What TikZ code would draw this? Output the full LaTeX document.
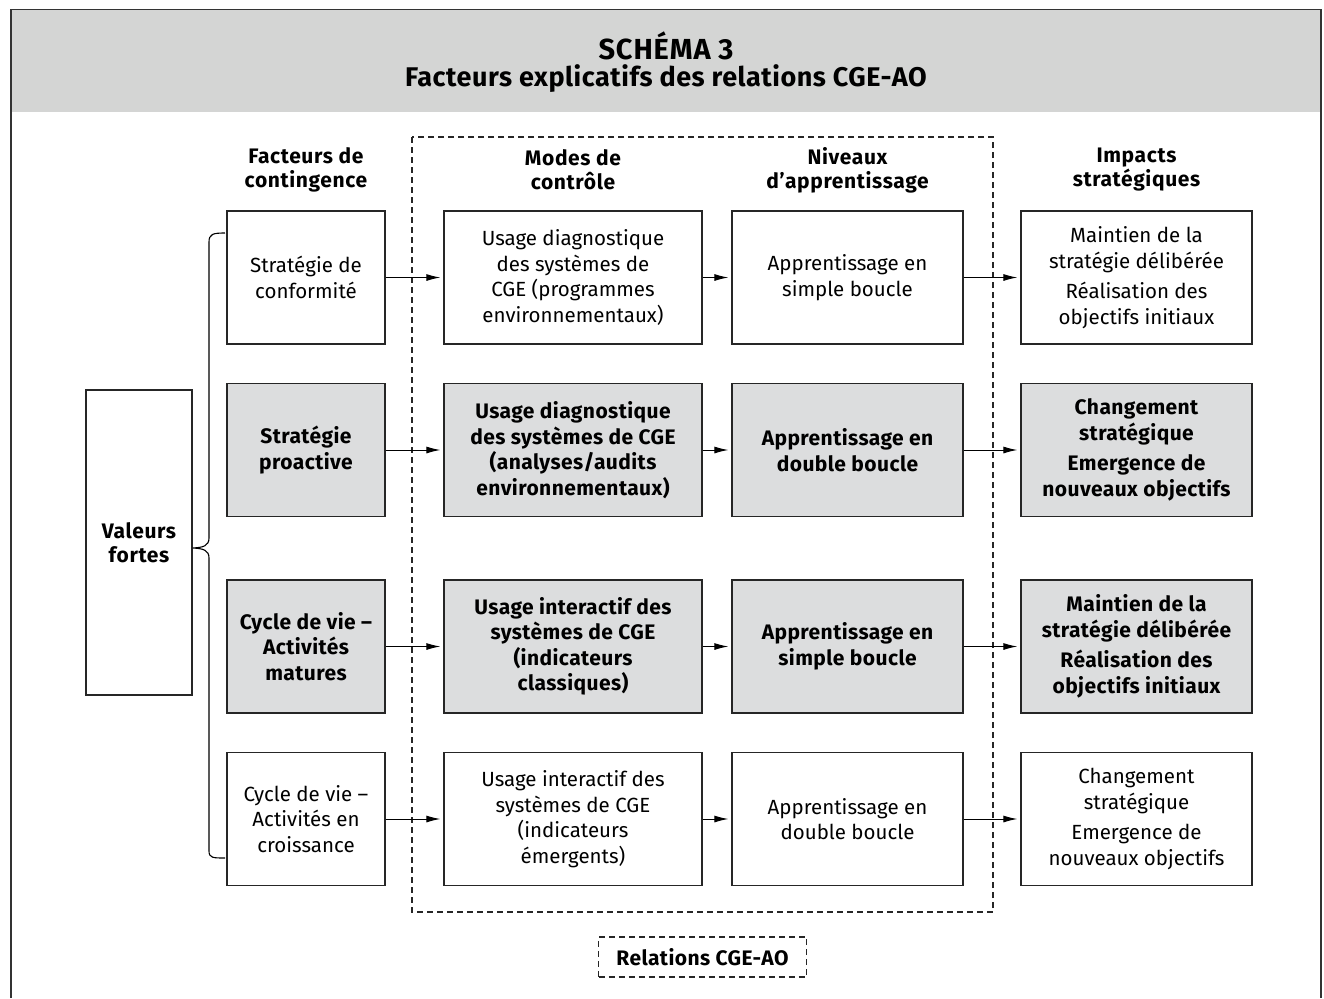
\documentclass[tikz,border=0pt]{standalone}
\usepackage{fontspec}
\setmainfont{Fira Sans}
\usetikzlibrary{arrows.meta}
\definecolor{hdr}{HTML}{D4D5D4}
\definecolor{boxg}{HTML}{DCDDDE}
\definecolor{frm}{HTML}{333333}
\tikzset{
  cell/.style={draw=black!85, line width=1.3pt, minimum height=133pt, align=center, inner sep=0pt,
    font=\fontsize{20.5}{25.5}\selectfont},
  wcell/.style={cell, fill=white},
  gcell/.style={cell, fill=boxg, font=\fontsize{21}{25.5}\selectfont\bfseries\addfontfeature{LetterSpace=2}},
  colhead/.style={align=center, font=\fontsize{21}{24}\selectfont\bfseries\addfontfeature{LetterSpace=3}},
  conn/.style={line width=1pt, -{Latex[length=14pt,width=7pt]}, shorten >=3pt},
  dashbox/.style={draw=black!85, line width=1.1pt, dash pattern=on 6pt off 4pt},
}
\begin{document}
\begin{tikzpicture}[x=1pt,y=-1pt]
\useasboundingbox (0,0) rectangle (1324,998);
% frame and header
\fill[hdr] (11,9.5) rectangle (1321,112);
\draw[frm, line width=1.3pt] (11,998) -- (11,9.5) -- (1321,9.5) -- (1321,998);
\node[font=\fontsize{29}{32}\selectfont\bfseries\addfontfeature{LetterSpace=3}] (t1) at (666,46) {SCHÉMA 3};
\node[font=\fontsize{27}{30}\selectfont\bfseries\addfontfeature{LetterSpace=2}] (t2) at (666,79) {Facteurs explicatifs des relations CGE-AO};
% dashed area
\draw[dashbox] (412,137) rectangle (993,912);
% column heads
\node[colhead] (h1) at (306,170) {Facteurs de\\contingence};
\node[colhead] (h2) at (573,170) {Modes de\\contrôle};
\node[colhead] (h3) at (847.5,170) {Niveaux\\d’apprentissage};
\node[colhead] (h4) at (1136.5,170) {Impacts\\stratégiques};
% valeurs
\node[draw=black!85, line width=1.3pt, minimum width=106pt, minimum height=305pt, align=center,
  font=\fontsize{21}{24.5}\selectfont\bfseries\addfontfeature{LetterSpace=3}] (v) at (139,542.5) {Valeurs\\fortes};
% brace
\draw[line width=1.1pt] (225,233) .. controls (213,233) and (209,234) .. (209,242)
  -- (209,538) .. controls (209,546) and (203,547.5) .. (v.east |- 0,548)
  .. controls (203,548.5) and (209,550) .. (209,558)
  -- (209,851) .. controls (209,858) and (213,858) .. (225,858);
% row 1
\node[wcell, minimum width=158pt] (a1) at (306,277.5) {Stratégie de\\conformité};
\node[wcell, minimum width=258pt] (b1) at (573,277.5) {Usage diagnostique\\des systèmes de\\CGE (programmes\\environnementaux)};
\node[wcell, minimum width=231pt] (c1) at (847.5,277.5) {Apprentissage en\\simple boucle};
\node[wcell, minimum width=231pt] (d1) at (1136.5,277.5) {Maintien de la\\stratégie délibérée\\[5pt]Réalisation des\\objectifs initiaux};
% row 2
\node[gcell, minimum width=158pt] (a2) at (306,450) {Stratégie\\proactive};
\node[gcell, minimum width=258pt] (b2) at (573,450) {Usage diagnostique\\des systèmes de CGE\\(analyses/audits\\environnementaux)};
\node[gcell, minimum width=231pt] (c2) at (847.5,450) {Apprentissage en\\double boucle};
\node[gcell, minimum width=231pt] (d2) at (1136.5,450) {Changement\\stratégique\\[5pt]Emergence de\\nouveaux objectifs};
% row 3
\node[gcell, minimum width=158pt] (a3) at (306,646.5) {Cycle de vie –\\Activités\\matures};
\node[gcell, minimum width=258pt] (b3) at (573,646.5) {Usage interactif des\\systèmes de CGE\\(indicateurs\\classiques)};
\node[gcell, minimum width=231pt] (c3) at (847.5,646.5) {Apprentissage en\\simple boucle};
\node[gcell, minimum width=231pt] (d3) at (1136.5,646.5) {Maintien de la\\stratégie délibérée\\[5pt]Réalisation des\\objectifs initiaux};
% row 4
\node[wcell, minimum width=158pt] (a4) at (306,819) {Cycle de vie –\\Activités en\\croissance};
\node[wcell, minimum width=258pt] (b4) at (573,819) {Usage interactif des\\systèmes de CGE\\(indicateurs\\émergents)};
\node[wcell, minimum width=231pt] (c4) at (847.5,819) {Apprentissage en\\double boucle};
\node[wcell, minimum width=231pt] (d4) at (1136.5,819) {Changement\\stratégique\\[5pt]Emergence de\\nouveaux objectifs};
% arrows
\foreach \r in {1,2,3,4}{
  \draw[conn] (a\r) -- (b\r);
  \draw[conn] (b\r) -- (c\r);
  \draw[conn] (c\r) -- (d\r);
}
% label
\node[dashbox, minimum width=208pt, minimum height=40pt, font=\fontsize{21}{24}\selectfont\bfseries\addfontfeature{LetterSpace=2}] (rel) at (702.5,957) {Relations CGE-AO};
\end{tikzpicture}
\end{document}
